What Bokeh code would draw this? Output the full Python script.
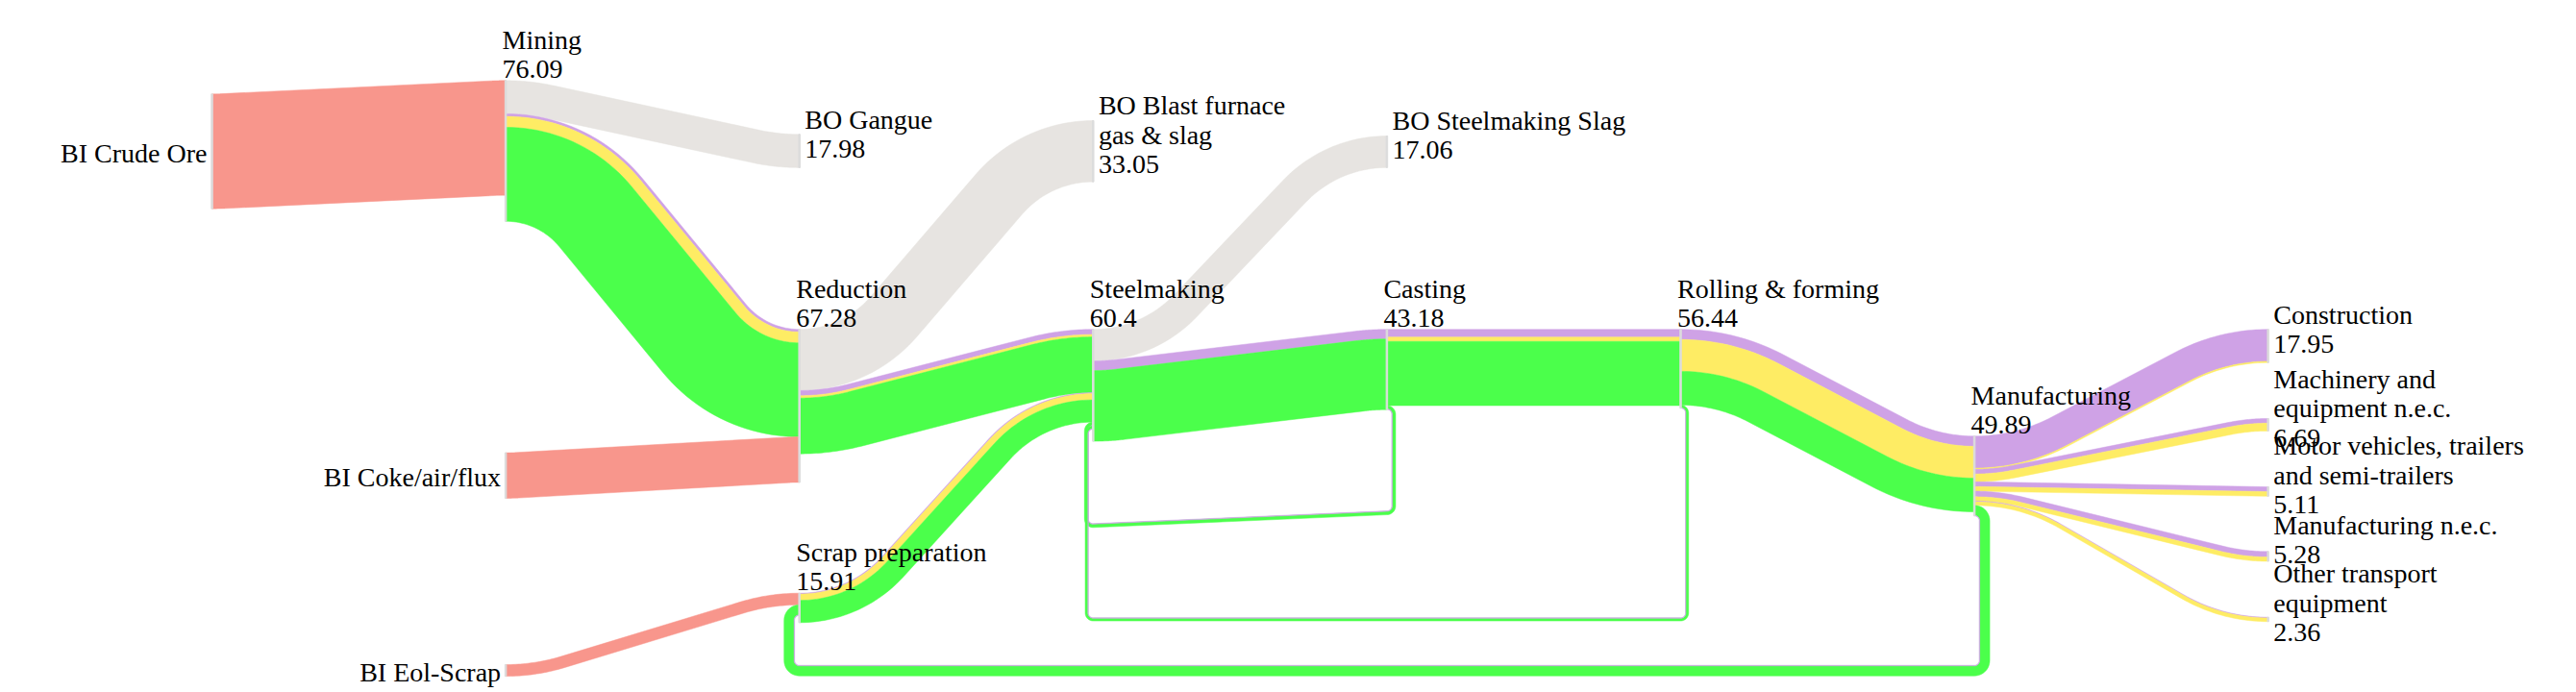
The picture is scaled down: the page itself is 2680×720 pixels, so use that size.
import math
from bokeh.plotting import figure
from bokeh.models import Range1d
from bokeh.core.properties import value
from bokeh.embed import file_html
from bokeh.resources import INLINE

# ---- data ----
node_names = ["BI Crude Ore", "Mining", "BI Coke/air/flux", "BI Eol-Scrap",
              "BO Gangue", "Reduction", "Scrap preparation",
              "BO Blast furnace\ngas & slag", "Steelmaking",
              "BO Steelmaking Slag", "Casting", "Rolling & forming", "Manufacturing",
              "Construction", "Machinery and\nequipment n.e.c.",
              "Motor vehicles, trailers\nand semi-trailers", "Manufacturing n.e.c.",
              "Other transport\nequipment"]
node_totals = [None, 76.09, None, None, 17.98, 67.28, 15.91, 33.05, 60.4,
               17.06, 43.18, 56.44, 49.89, 17.95, 6.69, 5.11, 5.28, 2.36]

link_src = ["BI Crude Ore", "Mining", "Mining", "Mining", "Mining", "BI Coke/air/flux",
            "Reduction", "Reduction", "Reduction", "Reduction", "BI Eol-Scrap",
            "Scrap preparation", "Scrap preparation", "Scrap preparation",
            "Steelmaking", "Steelmaking", "Steelmaking",
            "Casting", "Casting", "Casting", "Casting", "Casting",
            "Rolling & forming", "Rolling & forming", "Rolling & forming",
            "Rolling & forming", "Rolling & forming",
            "Manufacturing", "Manufacturing", "Manufacturing", "Manufacturing",
            "Manufacturing", "Manufacturing", "Manufacturing", "Manufacturing",
            "Manufacturing", "Manufacturing", "Manufacturing", "Manufacturing"]
link_dst = ["Mining", "BO Gangue", "Reduction", "Reduction", "Reduction", "Reduction",
            "BO Blast furnace\ngas & slag", "Steelmaking", "Steelmaking", "Steelmaking",
            "Scrap preparation", "Steelmaking", "Steelmaking", "Steelmaking",
            "BO Steelmaking Slag", "Casting", "Casting",
            "Rolling & forming", "Rolling & forming", "Rolling & forming",
            "Steelmaking", "Steelmaking",
            "Manufacturing", "Manufacturing", "Manufacturing", "Steelmaking", "Steelmaking",
            "Construction", "Construction",
            "Machinery and\nequipment n.e.c.", "Machinery and\nequipment n.e.c.",
            "Motor vehicles, trailers\nand semi-trailers",
            "Motor vehicles, trailers\nand semi-trailers",
            "Manufacturing n.e.c.", "Manufacturing n.e.c.",
            "Other transport\nequipment", "Other transport\nequipment",
            "Scrap preparation", "Scrap preparation"]
link_kind = ["input", "loss", "C", "B", "A", "input",
             "loss", "C", "B", "A", "input",
             "C", "B", "A",
             "loss", "C", "A",
             "C", "B", "A", "A", "C",
             "C", "B", "A", "A", "C",
             "C", "B", "C", "B", "C", "B", "C", "B", "C", "B",
             "A", "C"]
link_value = [62.0, 17.98, 1.4, 5.9, 50.8, 24.6,
              33.05, 2.8, 1.3, 30.1, 6.3,
              0.5, 3.4, 12.0,
              17.06, 5.2, 38.2,
              4.2, 2.3, 34.7, 1.8, 0.3,
              5.5, 17.2, 18.2, 1.45, 0.25,
              17.3, 0.65, 2.5, 4.2, 2.6, 2.5, 3.0, 2.3, 0.4, 1.96,
              5.4, 0.3]

# ---- layout (flow units, measured from the top edge) ----
node_col = [0, 1, 1, 1, 2, 2, 2, 3, 3, 4, 4, 5, 6, 7, 7, 7, 7, 7]
node_top = [50.55, 43.27, 244.47, 358.96, 72.36, 177.77, 320.36, 64.94, 177.77,
            73.25, 177.77, 177.77, 235.48, 177.77, 225.97, 262.86, 297.82, 333.35]
loop_bottom = {("Casting", "Steelmaking"): (276.9, 283.8),
               ("Rolling & forming", "Steelmaking"): (334.5, 334.5),
               ("Manufacturing", "Scrap preparation"): (362.2, 362.2)}

palette = {"input": "#f8968c", "loss": "#e7e4e1", "A": "#4bff4b",
           "B": "#feec64", "C": "#cfa2e6"}

K = 1.925          # px per flow unit
PX = 1 / K
PLOT_W, PLOT_H = 2672, 716
X0 = 220 * PX
COL_GAP = 305.6 * PX
LINE = 30.7 * PX
TEXT_SHIFT = -7 * PX

idx = {n: i for i, n in enumerate(node_names)}
node_x = [c * COL_GAP for c in node_col]

# port positions
out_cur = list(node_top)
in_cur = list(node_top)
link_y0, link_y1 = [], []
for s, d, v in zip(link_src, link_dst, link_value):
    i, j = idx[s], idx[d]
    link_y0.append(out_cur[i])
    out_cur[i] += v
    link_y1.append(in_cur[j])
    in_cur[j] += v
node_h = [max(o - t, n - t) for o, n, t in zip(out_cur, in_cur, node_top)]

bundles = []
for k in range(len(link_src)):
    key = (link_src[k], link_dst[k])
    if bundles and bundles[-1][0] == key:
        bundles[-1][1].append(k)
    else:
        bundles.append((key, [k]))


def lin(a, b, n=24):
    return [a + (b - a) * t / (n - 1) for t in range(n)]


def forward_path(x0, y0, x1, y1, w):
    dx, dy = x1 - x0, y1 - y0
    if abs(dy) < 1e-6:
        return [(x0, y0, 1.0, 0.0), (x1, y1, 1.0, 0.0)]
    s = 1 if dy > 0 else -1
    ady = abs(dy)
    r = min(0.8 * (dx * dx + ady * ady) / (4 * ady), w / 2 + 200 * PX)
    rs = 2 * r
    tmax = math.asin(dx / rs) if rs > dx else math.pi / 2 - 1e-6

    def f(t):
        return rs * (1 - 1 / math.cos(t)) + dx * math.tan(t) - ady

    lo, hi = 0.0, tmax
    for _ in range(80):
        mid = (lo + hi) / 2
        if f(mid) < 0:
            lo = mid
        else:
            hi = mid
    th = (lo + hi) / 2
    pts = []
    for ph in lin(0, th):
        pts.append((x0 + r * math.sin(ph), y0 + s * r * (1 - math.cos(ph)),
                    math.cos(ph), s * math.sin(ph)))
    for ph in lin(th, 0):
        pts.append((x1 - r * math.sin(ph), y1 - s * r * (1 - math.cos(ph)),
                    math.cos(ph), s * math.sin(ph)))
    return pts


def loop_path(xs, ys, xt, yt, ybs, ybt, r):
    pts = []
    h = math.pi / 2
    for ph in lin(0, h, 12):
        pts.append((xs + r * math.sin(ph), ys + r * (1 - math.cos(ph)), math.cos(ph), math.sin(ph)))
    for ph in lin(0, h, 12):
        pts.append((xs + r * math.cos(ph), ybs - r + r * math.sin(ph), -math.sin(ph), math.cos(ph)))
    for ph in lin(0, h, 12):
        pts.append((xt - r * math.sin(ph), ybt - r + r * math.cos(ph), -math.cos(ph), -math.sin(ph)))
    for ph in lin(0, h, 12):
        pts.append((xt - r * math.cos(ph), yt + r - r * math.sin(ph), math.sin(ph), -math.cos(ph)))
    return pts


xs_all, ys_all, colors = [], [], []
for (s, d), ks in bundles:
    i, j = idx[s], idx[d]
    w = sum(link_value[k] for k in ks)
    y0 = link_y0[ks[0]] + w / 2
    y1 = link_y1[ks[0]] + w / 2
    if node_col[j] > node_col[i]:
        path = forward_path(node_x[i], y0, node_x[j], y1, w)
    else:
        ybs, ybt = loop_bottom[(s, d)]
        path = loop_path(node_x[i], y0, node_x[j], y1, ybs, ybt, w / 2 + 5 * PX)
    off = -w / 2
    for k in ks:
        a, b = off, off + link_value[k]
        off = b
        ea = [(x - a * ty, y + a * tx) for x, y, tx, ty in path]
        eb = [(x - b * ty, y + b * tx) for x, y, tx, ty in path][::-1]
        xs_all.append([p[0] for p in ea + eb])
        ys_all.append([p[1] for p in ea + eb])
        colors.append(palette[link_kind[k]])

p = figure(width=PLOT_W, height=PLOT_H, output_backend="svg", toolbar_location=None,
           x_range=Range1d(-X0, (PLOT_W * PX) - X0), y_range=Range1d(PLOT_H * PX, 0),
           x_axis_location=None, y_axis_location=None, min_border=0)
p.grid.visible = False
p.outline_line_color = None
p.background_fill_color = "white"

p.patches(xs_all, ys_all, fill_color=colors, line_color=colors, line_width=0.5)

# nodes as thin bars
p.rect(x=node_x, y=[t + h / 2 for t, h in zip(node_top, node_h)], width=1.5,
       width_units="screen", height=node_h, color="#dcdcdc")

# labels
tx, ty, tt, ta = [], [], [], []
for i, name in enumerate(node_names):
    has_in = in_cur[i] > node_top[i] + 1e-9
    has_out = out_cur[i] > node_top[i] + 1e-9
    top, h = node_top[i], node_h[i]
    if not has_in:
        tx.append(node_x[i] - 5 * PX)
        ty.append(top + h / 2 + 8.7 * PX + TEXT_SHIFT)
        tt.append(name)
        ta.append("right")
        continue
    lines = name.split("\n") + [f"{node_totals[i]:g}"]
    n = len(lines)
    if not has_out:
        x = node_x[i] + 5.6 * PX
        first = top + h / 2 - 10 * PX - (n - 1) * LINE / 2
    else:
        x = node_x[i] - 3.5 * PX
        first = top - 5 * PX - (n - 1) * LINE
    for m, line in enumerate(lines):
        tx.append(x)
        ty.append(first + m * LINE + TEXT_SHIFT)
        tt.append(line)
        ta.append("left")

p.text(x=tx, y=ty, text=tt, text_align=ta, text_baseline="alphabetic",
       text_font=value("Liberation Serif"), text_font_size="28px", text_color="black")

open("out.html", "w").write(file_html(p, INLINE, "Sankey"))
